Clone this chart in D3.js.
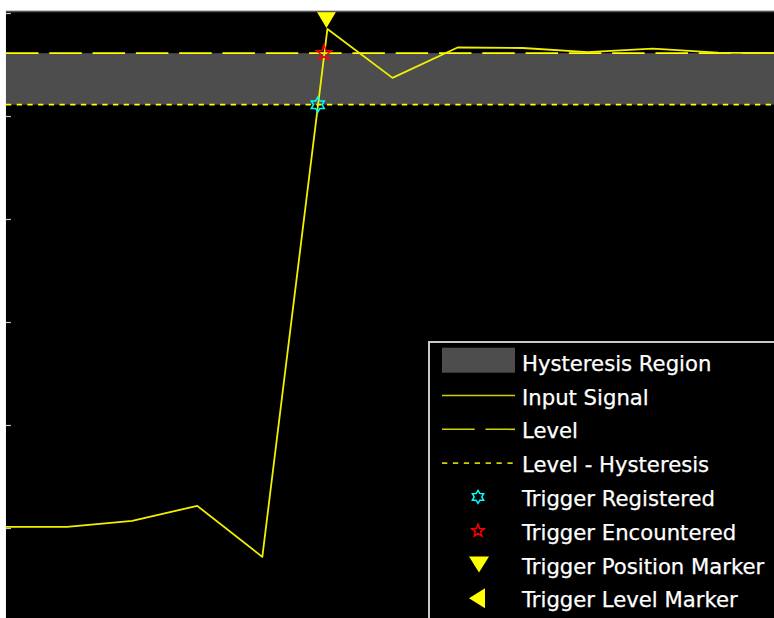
<!DOCTYPE html>
<html><head><meta charset="utf-8">
<script src="https://cdn.jsdelivr.net/npm/d3@7"></script>
<style>html,body{margin:0;padding:0;background:#fff;overflow:hidden}</style>
</head><body><svg id="c" width="774" height="618"></svg>
<script>
// ---- data ----
const sampleTimes = [0,1,2,3,4,5,6,7,8,9,10,11,12];
const signalValues = [0.002,0.002,0.014,0.043,-0.056,0.969,0.874,0.933,0.932,0.924,0.931,0.923,0.922];
const yTicks = [0,0.2,0.4,0.6,0.8,1.0];
const levelValue = 0.922;
const hysteresisValue = 0.1;
const triggerRegistered = [{t:4.852, v:0.822}];
const triggerEncountered = [{t:4.949, v:0.922}];
const triggerPositionTimes = [4.985];
const xLimits = [0.061, 11.862];
const yLimits = [-0.2, 1.004];
const legendLabels = ["Hysteresis Region","Input Signal","Level","Level - Hysteresis",
  "Trigger Registered","Trigger Encountered","Trigger Position Marker","Trigger Level Marker"];
const legendKinds = ["patch","solid","dashed","dotted","hexagram","pentagram","triDown","triLeft"];

// ---- styles ----
const YEL = "#ffff00", GRAY = "#4d4d4d";

const svg = d3.select("#c");
const x = d3.scaleLinear().domain([0,12]).range([2,783]);
const y = d3.scaleLinear().domain([0,1]).range([528,13]);

const x0 = x(xLimits[0]), x1 = x(xLimits[1]);
const yTop = y(yLimits[1]), yBot = y(yLimits[0]);

svg.append("rect").attr("width",774).attr("height",618).attr("fill","#fff");
svg.append("defs").append("clipPath").attr("id","pc")
  .append("rect").attr("x",x0).attr("y",yTop).attr("width",x1-x0).attr("height",yBot-yTop);
svg.append("rect").attr("x",x0).attr("y",yTop).attr("width",x1-x0+20).attr("height",yBot-yTop).attr("fill","#000");

const g = svg.append("g").attr("clip-path","url(#pc)");

// hysteresis region
g.append("rect").attr("x",x0).attr("width",x1-x0)
  .attr("y",y(levelValue)).attr("height",y(levelValue-hysteresisValue)-y(levelValue))
  .attr("fill",GRAY);

// level lines
g.append("line").attr("x1",x0).attr("x2",x1).attr("y1",y(levelValue)).attr("y2",y(levelValue))
  .attr("stroke",YEL).attr("stroke-width",1.6).attr("stroke-dasharray","32.5,10.8");
g.append("line").attr("x1",x0).attr("x2",x1)
  .attr("y1",y(levelValue-hysteresisValue)).attr("y2",y(levelValue-hysteresisValue))
  .attr("stroke",YEL).attr("stroke-width",1.6).attr("stroke-dasharray","5.3,5.4");

// signal
const sig = sampleTimes.map((t,i)=>({t, v:signalValues[i]}));
g.append("path").datum(sig)
  .attr("d", d3.line().x(d=>x(d.t)).y(d=>y(d.v)))
  .attr("fill","none").attr("stroke","#f0f000").attr("stroke-width",1.8).attr("stroke-linejoin","round");

function starPath(n, ro, ri){
  const pts=[];
  for(let k=0;k<2*n;k++){
    const a = -Math.PI/2 + k*Math.PI/n;
    const r = k%2===0?ro:ri;
    pts.push([r*Math.cos(a), r*Math.sin(a)]);
  }
  return "M"+pts.map(p=>p.join(",")).join("L")+"Z";
}
const triDown = (w,h)=>`M${-w/2},${-h/2}L${w/2},${-h/2}L0,${h/2}Z`;
const triLeft = (w,h)=>`M${w/2},${-h/2}L${w/2},${h/2}L${-w/2},0Z`;

// markers
g.selectAll(".reg").data(triggerRegistered).join("path")
  .attr("d", starPath(6,7.5,4.3)).attr("transform",d=>`translate(${x(d.t)},${y(d.v)})`)
  .attr("fill","none").attr("stroke","#00ffff").attr("stroke-width",1.5);
g.selectAll(".enc").data(triggerEncountered).join("path")
  .attr("d", starPath(5,8,3.4)).attr("transform",d=>`translate(${x(d.t)},${y(d.v)})`)
  .attr("fill","none").attr("stroke","#ff0000").attr("stroke-width",1.5);
g.selectAll(".tpos").data(triggerPositionTimes).join("path")
  .attr("d", triDown(19,16)).attr("transform",d=>`translate(${x(d)},${yTop+1+8})`)
  .attr("fill",YEL);
g.append("path").attr("d", triLeft(16,19))
  .attr("transform",`translate(${x1+7},${y(levelValue)})`).attr("fill",YEL);

// ticks
svg.selectAll(".tk").data(yTicks).join("line")
  .attr("x1",x0).attr("x2",x0+5).attr("y1",d=>Math.round(y(d))+0.5).attr("y2",d=>Math.round(y(d))+0.5)
  .attr("stroke","#c8c8c8").attr("stroke-width",1.2);
// top border
svg.append("line").attr("x1",x0).attr("x2",x1).attr("y1",yTop+0.5).attr("y2",yTop+0.5)
  .attr("stroke","#555").attr("stroke-width",1.5);

// legend
const lg = svg.append("g");
lg.append("rect").attr("x",429).attr("y",342).attr("width",400).attr("height",400)
  .attr("fill","#000").attr("stroke","#c8c8c8").attr("stroke-width",2);
const rowY = i => 370.7 + i*33.8;
const rows = lg.selectAll(".row").data(legendLabels.map((l,i)=>({l,k:legendKinds[i],i}))).join("g")
  .attr("transform",d=>`translate(0,${rowY(d.i)})`);
rows.append("text").attr("x",522).attr("y",0).text(d=>d.l)
  .attr("fill","#fff").attr("font-family","DejaVu Sans, sans-serif").attr("font-size",21.2)
  .attr("stroke","#fff").attr("stroke-width",0.25);
rows.each(function(d){
  const s = d3.select(this);
  const cy = -9;
  if(d.k==="patch") s.append("rect").attr("x",442).attr("y",-23).attr("width",73).attr("height",25).attr("fill",GRAY);
  else if(d.k==="solid") s.append("line").attr("x1",442).attr("x2",515).attr("y1",cy).attr("y2",cy).attr("stroke","#d0d000").attr("stroke-width",1.6);
  else if(d.k==="dashed") s.append("line").attr("x1",442).attr("x2",515).attr("y1",cy).attr("y2",cy).attr("stroke","#d0d000").attr("stroke-width",1.6).attr("stroke-dasharray","32.7,10.8");
  else if(d.k==="dotted") s.append("line").attr("x1",442).attr("x2",515).attr("y1",cy).attr("y2",cy).attr("stroke","#d0d000").attr("stroke-width",1.6).attr("stroke-dasharray","5.3,5.6");
  else if(d.k==="hexagram") s.append("path").attr("d",starPath(6,6.5,3.8)).attr("transform",`translate(478,${cy})`).attr("fill","none").attr("stroke","#00ffff").attr("stroke-width",1.5);
  else if(d.k==="pentagram") s.append("path").attr("d",starPath(5,6.5,2.8)).attr("transform",`translate(478,${cy})`).attr("fill","none").attr("stroke","#ff0000").attr("stroke-width",1.5);
  else if(d.k==="triDown") s.append("path").attr("d",triDown(20,16)).attr("transform",`translate(479,${cy})`).attr("fill",YEL);
  else if(d.k==="triLeft") s.append("path").attr("d",triLeft(16,20)).attr("transform",`translate(477,${cy})`).attr("fill",YEL);
});
</script></body></html>
